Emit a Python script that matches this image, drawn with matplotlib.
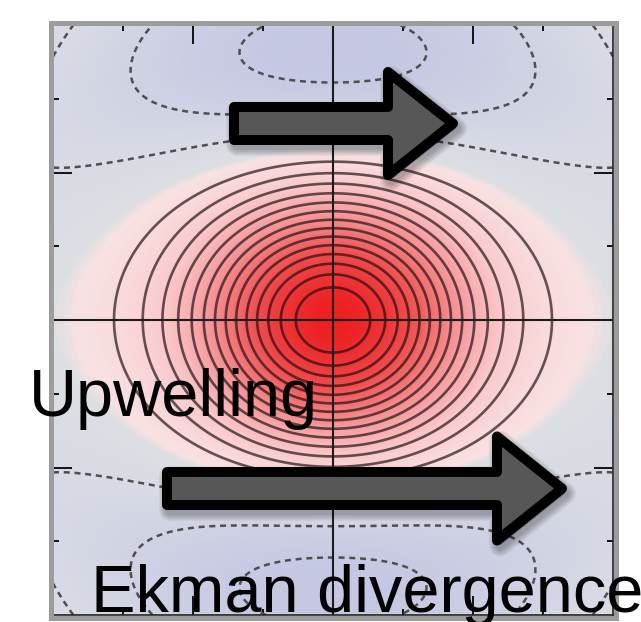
import numpy as np
import matplotlib
matplotlib.use("Agg")
import matplotlib.pyplot as plt
from matplotlib.colors import LinearSegmentedColormap, Normalize
from matplotlib.patches import Polygon, Rectangle

W, H, DPI = 641, 622, 100

# Domain (nondimensional)
x_range = [-4.0, 4.0]
y_range = [-4.0, 4.0]

# Central positive anomaly
peak_amp = 15.2
peak_sigma_x = 1.363
peak_sigma_y = 1.16

# Negative lobes to the north and south
lobe_amp = 3.45
lobe_center_y = 3.55
lobe_bend = 0.003
lobe_sigma_x = 2.8
lobe_sigma_y = 1.2

pos_levels = [1, 2, 3, 4, 5, 6, 7, 8, 9, 10, 11, 12, 13, 14]
neg_levels = [-3, -2, -1]
major_ticks = [-2, 0, 2]
minor_ticks = [-3, -1, 1, 3]

label_top = "Upwelling"
label_bottom = "Ekman divergence"

# colour ramp: value -> rgb
cmap_values = [-4.0, -1.2, 0.0, 0.25, 3.0, 7.0, 11.0, 15.2]
cmap_colors = [(0.75, 0.76, 0.89), (0.845, 0.855, 0.895), (0.865, 0.875, 0.89),
               (0.975, 0.885, 0.89), (0.98, 0.79, 0.80), (0.96, 0.55, 0.56),
               (0.94, 0.30, 0.30), (0.93, 0.12, 0.13)]

# ---- field ----
xg = np.linspace(x_range[0], x_range[1], 401)
yg = np.linspace(y_range[0], y_range[1], 401)
X, Y = np.meshgrid(xg, yg)
P = peak_amp * np.exp(-X**2 / (2 * peak_sigma_x**2) - Y**2 / (2 * peak_sigma_y**2))
yc = lobe_center_y - lobe_bend * X**4
N = -lobe_amp * np.exp(-X**2 / (2 * lobe_sigma_x**2)) * (
    np.exp(-(Y - yc)**2 / (2 * lobe_sigma_y**2)) +
    np.exp(-(Y + yc)**2 / (2 * lobe_sigma_y**2)))
F = P + N

vmin, vmax = cmap_values[0], cmap_values[-1]
nodes = [(v - vmin) / (vmax - vmin) for v in cmap_values]
cmap = LinearSegmentedColormap.from_list("anom", list(zip(nodes, cmap_colors)))

fig = plt.figure(figsize=(W / DPI, H / DPI), dpi=DPI)
ax_l, ax_r, ax_t, ax_b = 53, 613, 25, 615
ax = fig.add_axes([ax_l / W, 1 - ax_b / H, (ax_r - ax_l) / W, (ax_b - ax_t) / H])

ax.imshow(F, extent=[*x_range, *y_range], origin="lower", cmap=cmap,
          norm=Normalize(vmin, vmax), aspect="auto", interpolation="bilinear")

cs_pos = ax.contour(X, Y, F, levels=pos_levels, colors=[(0.12, 0.05, 0.06)],
                    linewidths=1.9, alpha=0.68)
cs_neg = ax.contour(X, Y, F, levels=neg_levels, colors=[(0.32, 0.30, 0.32)],
                    linewidths=1.8)
cs_neg.set_linestyle((0, (2.4, 1.9)))

ax.axhline(0, color="#1c1c1c", lw=1.5, zorder=3)
ax.axvline(0, color="#1c1c1c", lw=1.5, zorder=3)

ax.set_xlim(*x_range)
ax.set_ylim(*y_range)
ax.set_xticks(major_ticks)
ax.set_yticks(major_ticks)
ax.set_xticks(minor_ticks, minor=True)
ax.set_yticks(minor_ticks, minor=True)
ax.tick_params(which="both", direction="in", top=True, right=True,
               labelbottom=False, labelleft=False, color="#111111")
ax.tick_params(which="major", length=14, width=1.4)
ax.tick_params(which="minor", length=4.5, width=1.4)
for s in ax.spines.values():
    s.set_color("#222222")
    s.set_linewidth(1.2)

# grey outer band around the frame
band = 5.0
fig.patches.append(Rectangle(((ax_l - band / 2) / W, 1 - (ax_b + band / 2) / H),
                             (ax_r - ax_l + band) / W, (ax_b - ax_t + band) / H,
                             transform=fig.transFigure, fill=False,
                             edgecolor="#9c9c9c", lw=band * 72 / DPI, zorder=0.5))


def px(pts):
    return [(x / W, 1 - y / H) for x, y in pts]


def arrow(x0, xb, xt, yc_, half_shaft, half_head):
    pts = [(x0, yc_ - half_shaft), (xb, yc_ - half_shaft), (xb, yc_ - half_head),
           (xt, yc_), (xb, yc_ + half_head), (xb, yc_ + half_shaft),
           (x0, yc_ + half_shaft)]
    # soft drop shadow
    for i in range(7):
        sh = [(x + 3, y + 5) for x, y in pts]
        fig.patches.append(Polygon(px(sh), closed=True, transform=fig.transFigure,
                                   facecolor="k", edgecolor="k",
                                   lw=(9 + 2.2 * i) * 72 / DPI, alpha=0.045,
                                   joinstyle="round", zorder=1))
    fig.patches.append(Polygon(px(pts), closed=True, transform=fig.transFigure,
                               facecolor="#575757", edgecolor="black",
                               lw=10 * 72 / DPI, joinstyle="round", zorder=2))


arrow(234, 388, 453, 123.5, 16.5, 51.5)
arrow(167, 497, 562, 488.5, 16.5, 52)

fig.text(29 / W, 1 - 416 / H, label_top, fontsize=48, family="Liberation Sans",
         ha="left", va="baseline", color="black", zorder=5)
fig.text(91 / W, 1 - 612 / H, label_bottom, fontsize=48, family="Liberation Sans",
         ha="left", va="baseline", color="black", zorder=5)

fig.savefig("out.png", dpi=DPI)
